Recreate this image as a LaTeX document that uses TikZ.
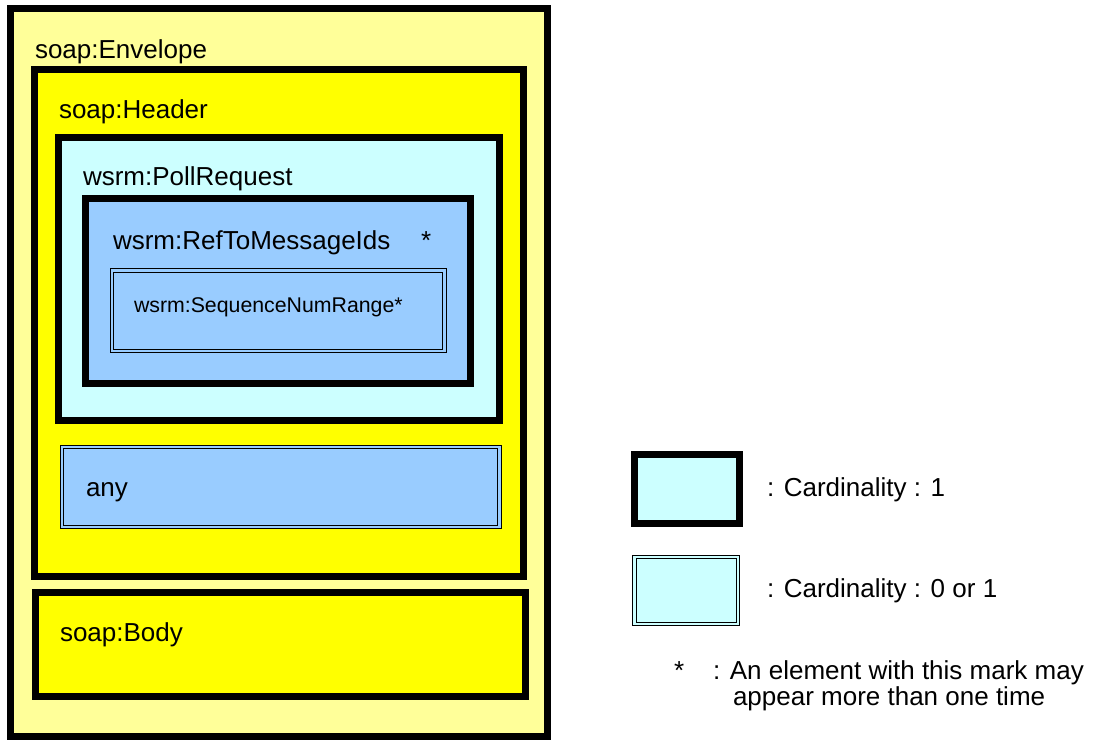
\documentclass[tikz,border=0pt]{standalone}
\usepackage{fontspec}
\setmainfont{Liberation Sans}
\definecolor{envfill}{HTML}{FFFF99}
\definecolor{hdrfill}{HTML}{FFFF00}
\definecolor{cyanfill}{HTML}{CCFFFF}
\definecolor{bluefill}{HTML}{99CCFF}
\tikzset{
  boxone/.style={draw=black, line width=7pt, rectangle, inner sep=0pt, outer sep=0pt, anchor=north west},
  boxopt/.style={draw=black, line width=1pt, double distance=2.3pt, rectangle, inner sep=0pt, outer sep=0pt, anchor=north west},
  lbl/.style={anchor=base west, inner sep=0pt, outer sep=0pt, font=\fontsize{26}{28}\selectfont},
  smalllbl/.style={anchor=base west, inner sep=0pt, outer sep=0pt, font=\fontsize{21.3}{24}\selectfont}
}
\begin{document}
\begin{tikzpicture}[x=1pt,y=-1pt]
\useasboundingbox (0,0) rectangle (1096,740);
% main structure
\node (env) [boxone, fill=envfill, minimum width=537pt, minimum height=728pt] at (10.5,8.5) {};
\node (hdr) [boxone, fill=hdrfill, minimum width=489pt, minimum height=507pt] at (34.5,69.5) {};
\node (poll) [boxone, fill=cyanfill, minimum width=441.5pt, minimum height=283.5pt] at (58,137) {};
\node (ref) [boxone, fill=bluefill, minimum width=385pt, minimum height=185pt] at (85.5,198.5) {};
\node (seq) [boxopt, fill=bluefill, double=bluefill, minimum width=332.3pt, minimum height=80.7pt] at (112.2,270.5) {};
\node (any) [boxopt, fill=bluefill, double=bluefill, minimum width=437.3pt, minimum height=79.6pt] at (62.2,447.2) {};
\node (body) [boxone, fill=hdrfill, minimum width=490pt, minimum height=104pt] at (35.5,592) {};
% labels
\node (envt) [lbl] at (35,58) {soap:Envelope};
\node (hdrt) [lbl] at (59,118.5) {soap:Header};
\node (pollt) [lbl] at (83,185.5) {wsrm:PollRequest};
\node (reft) [lbl] at (113,249.5) {wsrm:RefToMessageIds};
\node (refstar) [lbl] at (421,249.5) {*};
\node (seqt) [smalllbl] at (134,312) {wsrm:SequenceNumRange*};
\node (anyt) [lbl] at (86,496) {any};
\node (bodyt) [lbl] at (60,641) {soap:Body};
% legend
\node (leg1) [boxone, fill=cyanfill, minimum width=105pt, minimum height=69pt] at (634.5,454.5) {};
\node (leg2) [boxopt, fill=cyanfill, double=cyanfill, minimum width=103.6pt, minimum height=66.6pt] at (634.5,557.2) {};
\node (leg1t) [lbl] at (767,496.5) {: Cardinality : 1};
\node (leg2t) [lbl] at (767,597.5) {: Cardinality : 0 or 1};
\node (legstar) [lbl] at (674,679) {*};
\node (leg3a) [lbl] at (713,679) {: An element with this mark may};
\node (leg3b) [lbl] at (733,705) {appear more than one time};
\end{tikzpicture}
\end{document}
